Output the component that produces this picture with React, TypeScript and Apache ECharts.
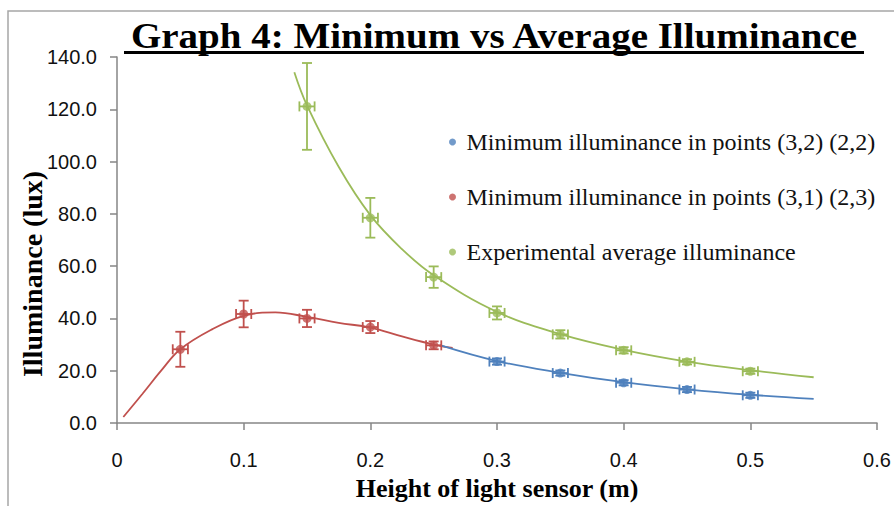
import React, { useEffect, useRef } from "react";
import * as echarts from "echarts";

// ---- data ----
const xTicks = [0, 0.1, 0.2, 0.3, 0.4, 0.5, 0.6];
const yTicks = [0, 20, 40, 60, 80, 100, 120, 140];

const blueName = "Minimum illuminance in points (3,2) (2,2)";
const redName = "Minimum illuminance in points (3,1) (2,3)";
const greenName = "Experimental average illuminance";

const blueX = [0.3, 0.35, 0.4, 0.45, 0.5];
const blueY = [23.5, 19.1, 15.4, 12.8, 10.6];
const blueErr = [1.2, 1.0, 1.0, 1.0, 1.0];

const redX = [0.05, 0.1, 0.15, 0.2, 0.25];
const redY = [28.2, 41.7, 40.0, 36.7, 29.7];
const redErr = [6.7, 5.1, 3.3, 2.3, 1.5];

const greenX = [0.15, 0.2, 0.25, 0.3, 0.35, 0.4, 0.45, 0.5];
const greenY = [121.1, 78.5, 55.8, 42.1, 33.9, 27.8, 23.4, 19.8];
const greenErr = [16.6, 7.6, 4.1, 2.5, 1.6, 1.2, 1.0, 1.0];

const xErr = 0.006;

// trend lines
const redTrendX = [0.005, 0.02, 0.035, 0.05, 0.075, 0.1, 0.125, 0.15, 0.175, 0.2, 0.225, 0.25, 0.265];
const redTrendY = [2.3, 11.1, 20.1, 28.2, 35.8, 41.0, 42.3, 40.6, 38.3, 36.5, 33.1, 30.0, 28.7];
const blueTrendX = [0.255, 0.3, 0.35, 0.4, 0.45, 0.5, 0.55];
const blueTrendY = [29.8, 23.7, 19.2, 15.6, 12.9, 10.8, 9.2];
const greenTrendX = [0.14, 0.15, 0.175, 0.2, 0.225, 0.25, 0.3, 0.35, 0.4, 0.45, 0.5, 0.55];
const greenTrendY = [134.2, 121.5, 98, 79.5, 66.5, 56.5, 42.5, 34, 28, 23.5, 20.2, 17.5];

const BLUE = "#4F81BD";
const RED = "#C0504D";
const GREEN = "#9BBB59";

const zip = (xs: number[], ys: number[]) => xs.map((x, i) => [x, ys[i]]);

function errorSeries(xs: number[], ys: number[], es: number[], color: string) {
  return {
    type: "custom",
    silent: true,
    z: 3,
    data: xs.map((x, i) => [x, ys[i], es[i], xErr]),
    encode: { x: 0, y: 1 },
    renderItem: (params: any, api: any) => {
      const x = api.value(0);
      const y = api.value(1);
      const ey = api.value(2);
      const ex = api.value(3);
      const top = api.coord([x, y + ey]);
      const bot = api.coord([x, y - ey]);
      const left = api.coord([x - ex, y]);
      const right = api.coord([x + ex, y]);
      const cap = 5;
      const style = { stroke: color, lineWidth: 1.8, fill: null };
      const ln = (x1: number, y1: number, x2: number, y2: number) => ({
        type: "line",
        shape: { x1, y1, x2, y2 },
        style,
      });
      return {
        type: "group",
        children: [
          ln(top[0], top[1], bot[0], bot[1]),
          ln(top[0] - cap, top[1], top[0] + cap, top[1]),
          ln(bot[0] - cap, bot[1], bot[0] + cap, bot[1]),
          ln(left[0], left[1], right[0], right[1]),
          ln(left[0], left[1] - cap, left[0], left[1] + cap),
          ln(right[0], right[1] - cap, right[0], right[1] + cap),
        ],
      };
    },
  };
}

function trendSeries(xs: number[], ys: number[], color: string) {
  return {
    type: "line",
    data: zip(xs, ys),
    showSymbol: false,
    smooth: 0.4,
    silent: true,
    z: 2,
    lineStyle: { color, width: 1.8 },
  };
}

function pointSeries(name: string, xs: number[], ys: number[], color: string) {
  return {
    name,
    type: "scatter",
    data: zip(xs, ys),
    symbol: "circle",
    symbolSize: 9,
    z: 4,
    itemStyle: { color },
  };
}

export default function App() {
  const ref = useRef<HTMLDivElement>(null);

  useEffect(() => {
    document.body.style.margin = "0";
    const chart = echarts.init(ref.current!, undefined, { renderer: "svg" });
    const axisLineStyle = { color: "#868686", width: 1.5 };
    chart.setOption({
      animation: false,
      backgroundColor: "#ffffff",
      grid: { left: 117, top: 57, right: 17, bottom: 80, containLabel: false },
      legend: {
        data: [blueName, redName, greenName],
        orient: "vertical",
        left: 444,
        top: 125,
        itemGap: 31,
        itemWidth: 18,
        itemHeight: 7,
        icon: "circle",
        textStyle: {
          fontFamily: "Liberation Serif",
          fontSize: 24,
          lineHeight: 24,
          color: "#111",
        },
      },
      xAxis: {
        type: "value",
        min: xTicks[0],
        max: xTicks[xTicks.length - 1],
        interval: 0.1,
        name: "Height of light sensor (m)",
        nameLocation: "middle",
        nameGap: 52,
        nameTextStyle: {
          fontFamily: "Liberation Serif",
          fontWeight: "bold",
          fontSize: 26,
          color: "#000",
        },
        axisLine: { show: true, lineStyle: axisLineStyle },
        axisTick: { show: true, length: 7, lineStyle: axisLineStyle },
        splitLine: { show: false },
        axisLabel: {
          margin: 27,
          fontFamily: "Liberation Sans",
          fontSize: 20,
          color: "#111",
          formatter: (v: number) => (v === 0 ? "0" : v.toFixed(1)),
        },
      },
      yAxis: {
        type: "value",
        min: yTicks[0],
        max: yTicks[yTicks.length - 1],
        interval: 20,
        axisLine: { show: true, lineStyle: axisLineStyle },
        axisTick: { show: true, length: 7, lineStyle: axisLineStyle },
        splitLine: { show: false },
        axisLabel: {
          margin: 20,
          fontFamily: "Liberation Sans",
          fontSize: 20,
          color: "#111",
          formatter: (v: number) => v.toFixed(1),
        },
      },
      graphic: [
        {
          type: "polyline",
          silent: true,
          shape: { points: [[8, 506], [8, 11], [894, 11]] },
          style: { stroke: "#a6a6a6", lineWidth: 1.5, fill: null },
        },
        {
          type: "text",
          x: 494,
          y: 36,
          scaleY: 0.9,
          style: {
            text: "Graph 4: Minimum vs Average Illuminance",
            font: "bold 39px 'Liberation Serif'",
            fill: "#000",
            textAlign: "center",
            textVerticalAlign: "middle",
          },
        },
        {
          type: "line",
          shape: { x1: 124, y1: 52.5, x2: 864, y2: 52.5 },
          style: { stroke: "#000", lineWidth: 3 },
        },
        {
          type: "text",
          x: 32,
          y: 274,
          rotation: Math.PI / 2,
          style: {
            text: "Illuminance (lux)",
            font: "bold 28px 'Liberation Serif'",
            fill: "#000",
            textAlign: "center",
            textVerticalAlign: "middle",
          },
        },
      ],
      series: [
        trendSeries(redTrendX, redTrendY, RED),
        trendSeries(blueTrendX, blueTrendY, BLUE),
        trendSeries(greenTrendX, greenTrendY, GREEN),
        errorSeries(redX, redY, redErr, RED),
        errorSeries(blueX, blueY, blueErr, BLUE),
        errorSeries(greenX, greenY, greenErr, GREEN),
        pointSeries(blueName, blueX, blueY, BLUE),
        pointSeries(redName, redX, redY, RED),
        pointSeries(greenName, greenX, greenY, GREEN),
      ],
    });
    return () => chart.dispose();
  }, []);

  return <div ref={ref} style={{ width: 894, height: 506 }} />;
}
